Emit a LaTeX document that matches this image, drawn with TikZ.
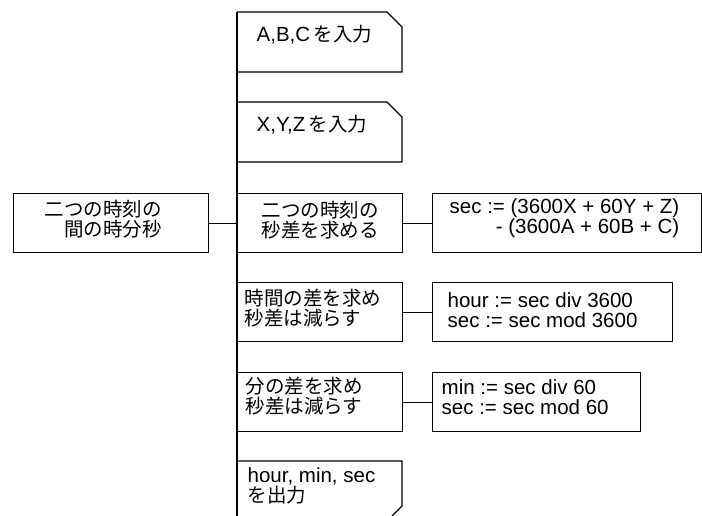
\documentclass[tikz,border=0pt]{standalone}
\usepackage{fontspec}
\setmainfont{Liberation Sans}
\newfontfamily\jpfont{Noto Sans CJK JP}
\newcommand\ja[1]{{\jpfont\fontsize{19.5}{20}\selectfont #1}}
\begin{document}
\begin{tikzpicture}[x=1pt, y=-1pt,
  line width=1.4pt,
  box/.style={draw, anchor=north west, inner sep=0pt, minimum height=59pt},
  txt/.style={inner sep=0pt, font=\fontsize{20.5}{20}\selectfont, text=black}]
\useasboundingbox (0,0) rectangle (702,516);

% main spine of the structure chart
\coordinate (spinetop) at (237,12);
\coordinate (spinebot) at (237,516);
\draw (spinetop) -- (spinebot);

% input steps (card shape, cut top-right corner)
\draw (237,12) -- (387,12) -- (402,27) -- (402,72) -- (237,72);
\node[txt, anchor=west] (in1) at (256,35) {A,B,C\,\ja{を入力}};
\draw (237,102) -- (387,102) -- (402,117) -- (402,162) -- (237,162);
\node[txt, anchor=west] (in2) at (256,125) {X,Y,Z\,\ja{を入力}};

% top-level task
\node[box, minimum width=195pt] (main) at (13,193) {};
\node[txt, anchor=west, align=left] (maint) at (44,219) {\ja{二つの時刻の}\\\ja{　間の時分秒}};

% step: seconds difference
\node[box, minimum width=165pt] (b3) at (237,193) {};
\node[txt, align=center] (b3t) at (320,220) {\ja{二つの時刻の}\\\ja{秒差を求める}};
\node[box, minimum width=269pt] (r3) at (432,193) {};
\node[txt, anchor=east, align=right] (r3t) at (680,218) {sec := (3600X + 60Y + Z)\\- (3600A + 60B + C)};

% step: hours
\node[box, minimum width=165pt] (b4) at (237,282) {};
\node[txt, anchor=west, align=left] (b4t) at (244,308) {\ja{時間の差を求め}\\\ja{秒差は減らす}};
\node[box, minimum width=240pt] (r4) at (432,282) {};
\node[txt, anchor=west, align=left] (r4t) at (447,310) {hour := sec div 3600\\sec := sec mod 3600};

% step: minutes
\node[box, minimum width=165pt] (b5) at (237,372) {};
\node[txt, anchor=west, align=left] (b5t) at (245,396) {\ja{分の差を求め}\\\ja{秒差は減らす}};
\node[box, minimum width=208pt] (r5) at (432,372) {};
\node[txt, anchor=west, align=left] (r5t) at (441,397) {min := sec div 60\\sec := sec mod 60};

% output step (cut bottom-right corner)
\draw (237,461) -- (402,461) -- (402,506) -- (392,516);
\node[txt, anchor=west, align=left] (outt) at (247,486) {hour, min, sec\\\ja{を出力}};

% connectors
\draw (main.east) -- (b3.west);
\draw (b3.east) -- (r3.west);
\draw (b4.east) -- (r4.west);
\draw (b5.east) -- (r5.west);
\end{tikzpicture}
\end{document}
